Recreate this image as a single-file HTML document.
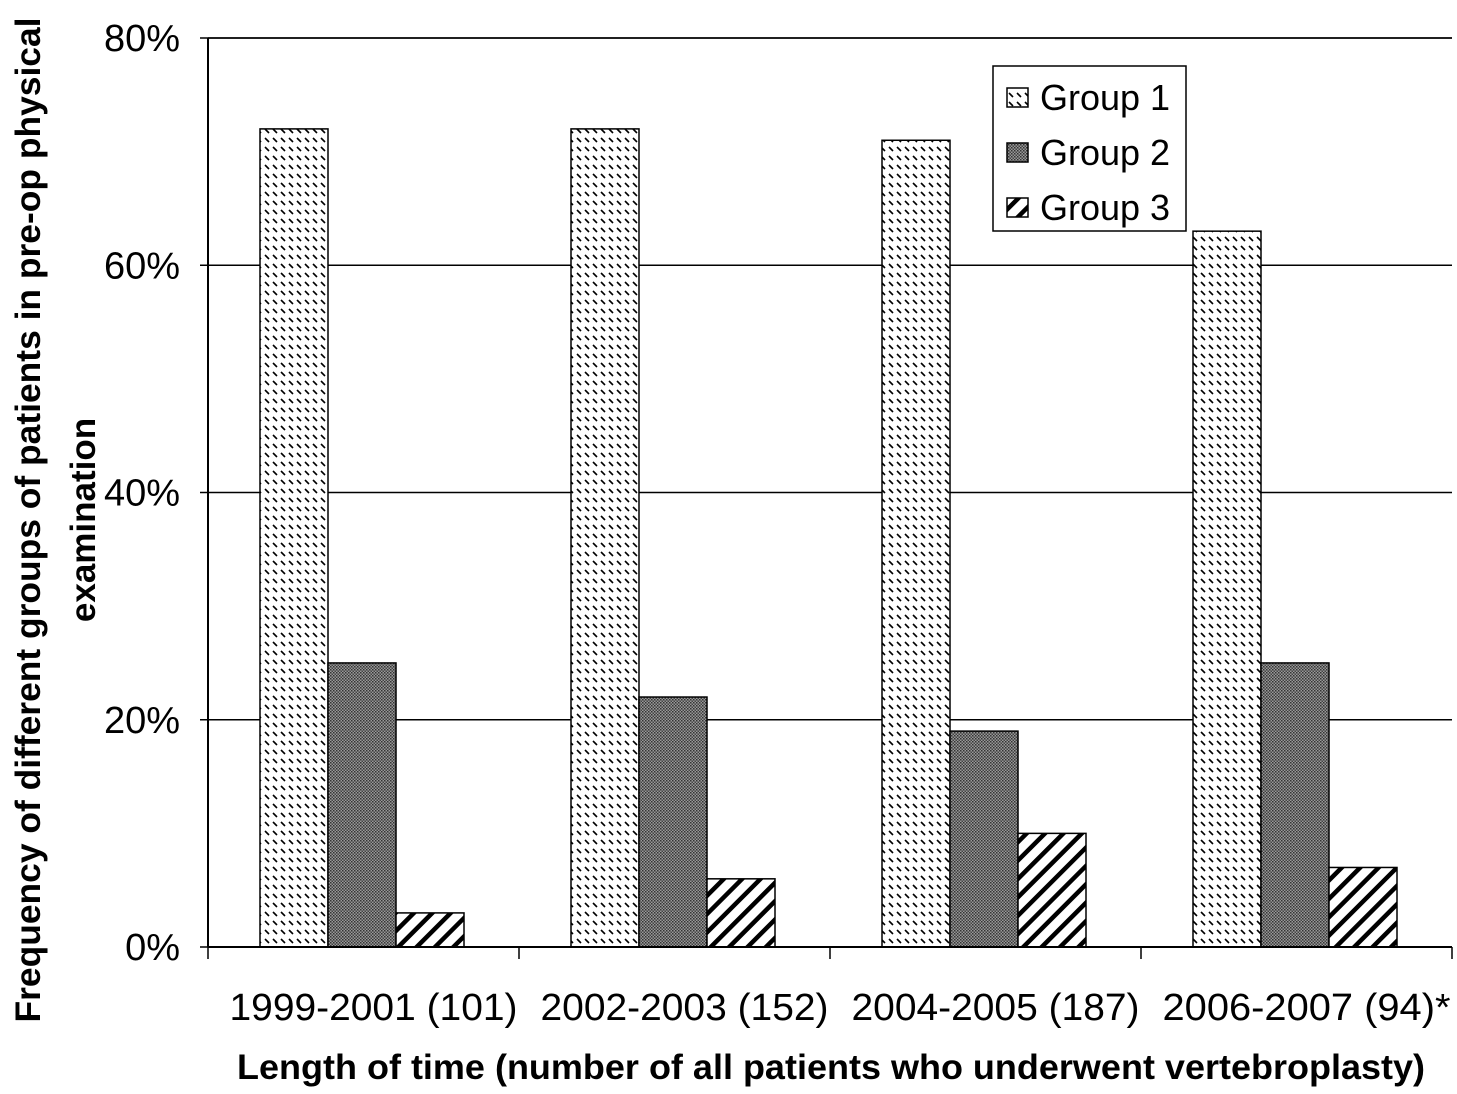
<!DOCTYPE html>
<html><head><meta charset="utf-8"><style>
body{margin:0;background:#fff;}
svg text{font-family:"Liberation Sans",Arial,sans-serif;fill:#000;}
</style></head><body>
<svg id="chart" width="1457" height="1089" xmlns="http://www.w3.org/2000/svg">
<defs>
<pattern id="p1" width="8" height="9" patternUnits="userSpaceOnUse">
<rect width="8" height="9" fill="#fff"/><line x1="1" y1="3" x2="5" y2="7" stroke="#000" stroke-width="1.6"/></pattern>
<pattern id="p2" width="3" height="3" patternUnits="userSpaceOnUse">
<rect width="3" height="3" fill="#999"/><rect width="1.5" height="1.5" fill="#333"/><rect x="1.5" y="1.5" width="1.5" height="1.5" fill="#444"/></pattern>
<pattern id="p3" width="13" height="13" patternUnits="userSpaceOnUse" patternTransform="rotate(45)">
<rect width="13" height="13" fill="#fff"/><rect width="4.5" height="13" fill="#000"/></pattern>
</defs>
<g id="grid"></g>
<g id="bars"></g>
<g id="axes"></g>
<text transform="translate(40,520) rotate(-90)" text-anchor="middle" font-size="35" font-weight="bold" textLength="1005" lengthAdjust="spacingAndGlyphs">Frequency of different groups of patients in pre-op physical</text>
<text transform="translate(95,520) rotate(-90)" text-anchor="middle" font-size="35" font-weight="bold">examination</text>
<text x="831" y="1079" text-anchor="middle" font-size="35" font-weight="bold" textLength="1188" lengthAdjust="spacingAndGlyphs">Length of time (number of all patients who underwent vertebroplasty)</text>
<g>
<rect x="993" y="66" width="193" height="165" fill="#fff" stroke="#000" stroke-width="1.5"/>
<rect x="1007" y="88" width="21" height="19" fill="url(#p1)" stroke="#000" stroke-width="1.5"/>
<text x="1040" y="110" font-size="36">Group 1</text>
<rect x="1007" y="143" width="21" height="19" fill="url(#p2)" stroke="#000" stroke-width="1.5"/>
<text x="1040" y="165" font-size="36">Group 2</text>
<rect x="1007" y="198" width="21" height="19" fill="url(#p3)" stroke="#000" stroke-width="1.5"/>
<text x="1040" y="220" font-size="36">Group 3</text>
</g>
</svg>
<script>
const categories=["1999-2001 (101)","2002-2003 (152)","2004-2005 (187)","2006-2007 (94)*"];
const group1=[72,72,71,63];
const group2=[25,22,19,25];
const group3=[3,6,10,7];
const yTicks=[0,20,40,60,80];
const NS="http://www.w3.org/2000/svg";
const X0=208,X1=1452,Y0=947,Y1=38,YMAX=80;
const y=v=>Y0-(v/YMAX)*(Y0-Y1);
const cw=(X1-X0)/categories.length;
function mk(t,a,p){const e=document.createElementNS(NS,t);for(const k in a)e.setAttribute(k,a[k]);p.appendChild(e);return e;}
const grid=document.getElementById('grid'),bars=document.getElementById('bars'),axes=document.getElementById('axes');
yTicks.forEach(t=>{
 if(t>0){const l=mk('line',{x1:X0,x2:X1,y1:y(t),y2:y(t),stroke:'#000','stroke-width':1.5},grid);
 
 }
 const tk=mk('line',{x1:X0-8,x2:X0,y1:y(t),y2:y(t),stroke:'#000','stroke-width':1.5},axes);
 
 
 const tx=mk('text',{x:X0-28,y:y(t)+13,'text-anchor':'end','font-size':38},axes);tx.textContent=t+'%';
 
 
});
const series=[group1,group2,group3],fills=['url(#p1)','url(#p2)','url(#p3)'];
const bw=68,off=52;
categories.forEach((c,i)=>{
 series.forEach((s,j)=>{
  const bx=X0+i*cw+off+j*bw;
  const r=mk('rect',{x:bx,y:y(s[i]),width:bw,height:Y0-y(s[i]),fill:fills[j],stroke:'#000','stroke-width':1.5},bars);
  
  
 });
 const tk=mk('line',{x1:X0+(i+1)*cw,x2:X0+(i+1)*cw,y1:Y0,y2:Y0+12,stroke:'#000','stroke-width':1.5},axes);
 
 
 const tx=mk('text',{x:X0+i*cw+cw/2+10,y:1020,'text-anchor':'middle','font-size':38,textLength:288,lengthAdjust:'spacingAndGlyphs'},axes);tx.textContent=c;
 
 
});
const t0=mk('line',{x1:X0,x2:X0,y1:Y0,y2:Y0+12,stroke:'#000','stroke-width':1.5},axes);


const ya=mk('line',{x1:X0,x2:X0,y1:Y1,y2:Y0,stroke:'#000','stroke-width':2},axes);


const xa=mk('line',{x1:X0,x2:X1,y1:Y0,y2:Y0,stroke:'#000','stroke-width':2},axes);


const tl=mk('line',{x1:X0,x2:X1,y1:Y1,y2:Y1,stroke:'#000','stroke-width':1.5},grid);


</script>
</body></html>
